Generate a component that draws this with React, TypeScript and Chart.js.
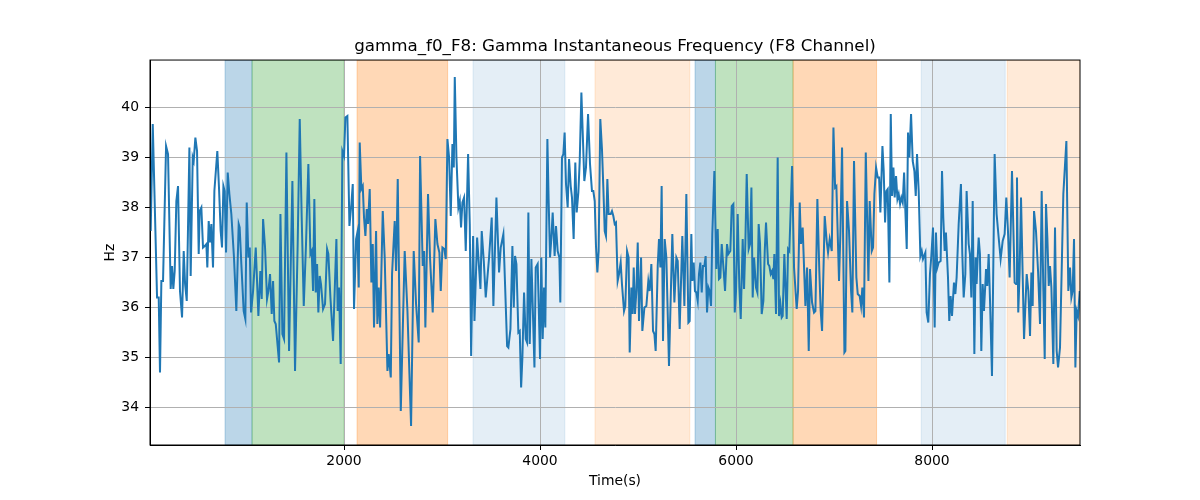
import { useEffect, useRef } from 'react';
import { Chart, ChartConfiguration, registerables } from 'chart.js';

Chart.register(...registerables);

// Time (s) and instantaneous frequency (Hz)
const times = [
  27, 48, 92, 109, 122, 136, 153, 184, 204, 231, 245, 258, 272, 289, 306, 326, 347, 364, 378, 395,
  422, 435, 456, 466, 483, 500, 517, 527, 544, 561, 578, 595, 605, 619, 633, 646, 663, 677, 707, 724,
  741, 755, 769, 782, 796, 813, 830, 850, 877, 901, 925, 935, 952, 976, 993, 1007,
  1024, 1038, 1051, 1072, 1099, 1126, 1146, 1160, 1174, 1194, 1214, 1228, 1245, 1262, 1276, 1289, 1303, 1337, 1351, 1371,
  1388, 1412, 1439, 1473, 1500, 1527, 1548, 1568, 1589, 1612, 1636, 1657, 1670, 1684, 1697, 1711, 1725, 1738, 1752, 1765,
  1786, 1806, 1827, 1840, 1861, 1888, 1922, 1935, 1949, 1966, 1983, 2000,
  2014, 2034, 2055, 2075, 2089, 2102, 2123, 2136, 2150, 2160, 2177, 2191, 2204, 2218, 2232, 2245, 2262, 2279, 2293, 2306,
  2327, 2340, 2354, 2368, 2395, 2415, 2443, 2456, 2477, 2490, 2517, 2531, 2548, 2579, 2619, 2647, 2684, 2711, 2735, 2762,
  2776, 2803, 2817, 2830, 2857, 2878, 2905, 2932, 2953, 2973, 2987,
  3004, 3024, 3038, 3055, 3072, 3089, 3106, 3120, 3130, 3147, 3167, 3181, 3194, 3208, 3225, 3242, 3266, 3283, 3297, 3317,
  3331, 3358, 3371, 3392, 3405, 3426, 3446, 3480, 3507, 3524, 3555, 3582, 3599, 3626, 3664, 3677, 3698, 3718, 3732, 3745,
  3759, 3779, 3793, 3807, 3820, 3837, 3854, 3868, 3881, 3895, 3912, 3943, 3956,
  3976, 4000, 4013, 4027, 4041, 4054, 4075, 4088, 4102, 4115, 4129, 4149, 4163, 4180, 4197, 4207, 4224, 4238, 4251, 4265,
  4282, 4296, 4313, 4326, 4343, 4360, 4374, 4391, 4405, 4422, 4435, 4452, 4469, 4490, 4510, 4530, 4544, 4558, 4571, 4585,
  4598, 4615, 4632, 4646, 4660, 4673, 4687, 4700, 4721, 4734, 4748, 4762, 4775, 4792, 4806, 4823, 4836, 4857, 4870, 4888,
  4904, 4915, 4932, 4945,
  4956, 4969, 4983, 4997, 5010, 5031, 5044, 5065, 5085, 5105, 5119, 5136, 5153, 5167, 5180, 5201, 5214, 5228, 5241, 5255,
  5272, 5289, 5316, 5350, 5371, 5391, 5405, 5425, 5452, 5473, 5493, 5514, 5527, 5544, 5554, 5568, 5581, 5595, 5609, 5622,
  5636, 5650, 5663, 5677, 5690, 5704, 5718, 5731, 5745, 5758, 5779, 5799, 5813, 5826, 5840, 5854, 5874, 5888, 5908, 5922,
  5942,
  5956, 5973, 5987, 6000, 6017, 6034, 6048, 6068, 6082, 6095, 6109, 6129, 6143, 6157, 6170, 6184, 6204, 6218, 6231, 6245,
  6262, 6279, 6293, 6306, 6327, 6340, 6354, 6368, 6381, 6391, 6408, 6425, 6439, 6453, 6466, 6476, 6493, 6517, 6531, 6544,
  6572, 6592, 6619, 6633, 6650, 6663, 6680, 6708, 6725, 6742, 6755, 6776, 6796, 6810, 6830, 6850, 6864, 6878, 6905, 6925,
  6939,
  6956, 6977, 6994, 7011, 7024, 7051, 7065, 7082, 7106, 7116, 7133, 7153, 7174, 7187, 7204, 7228, 7242, 7262, 7276, 7289,
  7306, 7324, 7351, 7364, 7385, 7398, 7412, 7429, 7446, 7460, 7473, 7494, 7507, 7521, 7534, 7548, 7565, 7579, 7592, 7606,
  7619, 7633, 7647, 7660, 7674, 7687, 7701, 7715, 7728, 7742, 7755, 7769, 7786, 7803, 7820, 7834, 7847, 7864, 7881, 7895,
  7908,
  7932, 7945, 7962, 7979, 7993, 8010, 8027, 8040, 8054, 8068, 8088, 8102, 8115, 8129, 8142, 8163, 8176, 8190, 8204, 8224,
  8238, 8251, 8272, 8295, 8309, 8323, 8340, 8353, 8374, 8387, 8401, 8415, 8432, 8445, 8455, 8466, 8476, 8489, 8503, 8517,
  8530, 8544, 8551, 8564, 8578, 8591, 8612, 8639, 8659, 8680, 8700, 8721, 8741, 8758, 8775, 8792, 8816, 8843, 8857, 8867,
  8880, 8894, 8908,
  8939, 8966, 8983, 9000, 9014, 9027, 9041, 9061, 9082, 9102, 9119, 9136, 9150, 9163, 9177, 9191, 9204, 9218, 9238, 9255,
  9272, 9286, 9306, 9340, 9371, 9391, 9408, 9422, 9435, 9449, 9463, 9476, 9490, 9507,
];

const hz = [
  37.53, 39.67, 36.2, 36.2, 34.7, 36.53, 36.53, 39.23, 39.07, 36.37, 36.83, 36.37, 36.73, 38.13, 38.43, 36.33, 35.8, 37.13, 36.47, 36.13,
  39.2, 36.63, 39.0, 38.93, 39.4, 39.13, 37.07, 37.93, 38.0, 37.2, 37.23, 37.27, 36.8, 37.73, 37.3, 37.67, 36.8, 38.33, 39.13, 38.4,
  37.53, 37.2, 38.43, 38.33, 37.1, 38.7, 38.27, 37.87, 37.0, 35.93, 37.67, 37.6, 36.87, 35.93, 35.77, 38.1,
  37.0, 37.2, 35.9, 36.33, 37.2, 35.83, 36.73, 36.17, 37.77, 37.2, 36.17, 36.33, 36.67, 35.87, 36.53, 35.73, 35.67, 34.9, 37.87, 35.47,
  35.37, 39.1, 35.13, 38.53, 34.73, 37.27, 39.77, 37.8, 36.03, 37.27, 38.87, 37.07, 37.13, 36.33, 38.17, 36.3, 36.87, 35.9, 36.63, 36.47,
  35.97, 36.07, 37.17, 37.07, 36.2, 35.33, 37.37, 35.93, 36.4, 34.87, 39.13, 39.03,
  39.8, 39.83, 37.63, 38.07, 38.47, 35.97, 37.37, 37.5, 36.4, 39.3, 38.37, 38.43, 37.8, 37.43, 37.97, 37.67, 38.37, 36.5, 37.27, 35.6,
  37.53, 35.67, 36.4, 35.6, 37.93, 37.0, 34.73, 35.07, 34.6, 36.67, 37.73, 36.73, 38.57, 33.93, 37.13, 35.93, 33.63, 37.13, 36.07, 35.3,
  39.03, 36.83, 37.13, 35.6, 38.27, 36.97, 35.9, 37.77, 37.27, 37.1, 36.33,
  37.2, 37.17, 36.97, 39.37, 39.0, 37.83, 39.27, 38.8, 40.61, 39.0, 38.0, 38.13, 37.6, 38.1, 38.2, 37.13, 39.07, 37.67, 35.03, 37.43,
  35.73, 37.4, 37.0, 36.37, 37.53, 36.93, 36.2, 37.0, 37.8, 36.03, 38.2, 36.7, 37.2, 37.47, 35.23, 35.2, 35.57, 37.23, 36.0, 37.03,
  36.87, 35.5, 35.53, 34.4, 35.0, 36.3, 35.37, 35.3, 37.9, 35.27, 36.97, 34.8, 36.8,
  36.87, 34.97, 37.0, 35.37, 36.4, 35.6, 39.37, 38.13, 37.0, 37.37, 37.9, 37.03, 37.63, 37.13, 37.0, 36.1, 39.0, 39.07, 39.5, 38.47,
  38.0, 38.97, 38.43, 38.2, 37.37, 38.9, 37.9, 38.3, 38.93, 40.3, 39.53, 38.53, 38.8, 39.87, 38.87, 38.33, 38.33, 38.13, 37.23, 36.7,
  37.13, 39.77, 39.17, 38.4, 37.53, 37.43, 38.57, 37.87, 37.87, 37.93, 37.83, 37.67, 37.7, 36.53, 36.67, 36.9, 36.47, 35.93, 36.03, 37.13,
  37.0, 35.1, 36.4, 35.87,
  36.8, 35.87, 36.33, 37.3, 35.73, 37.0, 35.53, 36.0, 36.03, 36.53, 36.33, 36.87, 35.53, 35.47, 35.13, 36.83, 37.37, 36.8, 38.43, 35.33,
  37.37, 37.0, 34.83, 37.47, 36.1, 37.0, 36.93, 35.57, 37.43, 36.03, 38.27, 35.7, 35.73, 37.47, 36.53, 36.9, 36.33, 36.3, 36.13, 36.67,
  36.9, 36.3, 36.83, 36.83, 37.03, 35.9, 36.4, 36.33, 36.03, 37.47, 38.73, 36.77, 37.57, 36.57, 36.6, 37.27, 36.73, 36.33, 37.27, 37.07,
  37.13,
  38.03, 38.07, 35.9, 36.33, 37.87, 36.4, 35.77, 37.37, 36.37, 37.27, 38.67, 37.17, 37.27, 38.4, 36.2, 37.0, 36.4, 36.3, 37.67, 37.27,
  35.87, 36.13, 37.13, 37.7, 36.87, 36.83, 36.67, 36.73, 36.57, 37.07, 35.87, 39.0, 35.83, 36.07, 35.8, 35.83, 37.07, 35.77, 37.17, 37.13,
  38.83, 36.8, 35.97, 36.33, 38.1, 37.27, 37.6, 36.03, 36.8, 35.13, 36.77, 36.1, 35.9, 35.93, 38.17, 36.73, 35.93, 35.53, 37.83, 37.33,
  37.1,
  37.37, 37.13, 39.6, 38.4, 38.43, 36.53, 37.5, 39.2, 35.1, 35.13, 38.13, 37.53, 36.33, 35.9, 38.93, 36.6, 36.27, 36.23, 36.03, 36.4,
  35.8, 39.1, 36.53, 38.13, 37.13, 37.2, 38.27, 38.8, 38.6, 38.6, 37.9, 39.23, 38.73, 37.7, 38.33, 38.37, 36.5, 39.87, 38.23, 38.8,
  38.2, 38.63, 38.17, 38.27, 38.07, 38.2, 38.1, 38.7, 37.93, 37.17, 39.5, 39.0, 39.87, 38.93, 38.73, 38.23, 39.07, 38.33, 37.03, 37.13,
  36.97,
  37.1, 35.9, 35.7, 36.67, 37.03, 37.6, 35.6, 37.5, 36.8, 36.9, 36.93, 38.73, 37.8, 37.13, 37.5, 36.6, 35.73, 36.23, 35.83, 36.5,
  36.27, 36.6, 37.67, 38.47, 37.07, 36.2, 36.67, 38.33, 37.27, 37.07, 36.2, 38.13, 35.07, 37.0, 36.47, 37.0, 37.4, 37.07, 35.13, 36.47,
  35.93, 36.47, 36.77, 36.43, 37.07, 36.2, 34.63, 39.07, 37.87, 37.4, 36.97, 37.33, 37.47, 38.2, 37.53, 36.6, 38.73, 36.5, 36.47, 38.6,
  35.9, 36.7, 38.2,
  35.37, 36.67, 36.33, 35.43, 36.7, 36.03, 37.93, 37.53, 36.73, 35.67, 38.33, 36.33, 34.97, 38.07, 37.4, 36.43, 36.83, 36.4, 34.87, 37.6,
  35.13, 34.8, 35.2, 38.27, 39.33, 36.33, 36.8, 36.2, 36.33, 37.37, 34.8, 35.93, 35.83, 36.33,
];

// Shaded segments (axvspan)
const spanStarts = [786, 1061, 2133, 3316, 4561, 5582, 5790, 6582, 7890, 8767];
const spanEnds = [1061, 2000, 3057, 4253, 5528, 5790, 6582, 7434, 8747, 9510];
const spanColors = [
  'rgba(31, 119, 180, 0.3)',
  'rgba(44, 160, 44, 0.3)',
  'rgba(255, 127, 14, 0.3)',
  'rgba(31, 119, 180, 0.12)',
  'rgba(255, 127, 14, 0.16)',
  'rgba(31, 119, 180, 0.3)',
  'rgba(44, 160, 44, 0.3)',
  'rgba(255, 127, 14, 0.3)',
  'rgba(31, 119, 180, 0.12)',
  'rgba(255, 127, 14, 0.16)',
];

const xTicks = [2000, 4000, 6000, 8000];
const yTicks = [34, 35, 36, 37, 38, 39, 40];

const FONT = 'DejaVu Sans';

const spansPlugin = {
  id: 'spans',
  beforeDraw(chart: Chart) {
    const { ctx, chartArea } = chart;
    const x = chart.scales.x;
    ctx.save();
    ctx.beginPath();
    ctx.rect(chartArea.left, chartArea.top, chartArea.right - chartArea.left, chartArea.bottom - chartArea.top);
    ctx.clip();
    spanStarts.forEach((s, i) => {
      const x0 = x.getPixelForValue(s);
      const x1 = x.getPixelForValue(spanEnds[i]);
      ctx.fillStyle = spanColors[i];
      ctx.fillRect(x0, chartArea.top, x1 - x0, chartArea.bottom - chartArea.top);
      ctx.strokeStyle = spanColors[i];
      ctx.lineWidth = 1;
      ctx.strokeRect(x0, chartArea.top, x1 - x0, chartArea.bottom - chartArea.top);
    });
    ctx.restore();
  },
  afterDraw(chart: Chart) {
    const { ctx, chartArea } = chart;
    ctx.save();
    ctx.strokeStyle = '#000';
    ctx.lineWidth = 1;
    ctx.strokeRect(chartArea.left, chartArea.top, chartArea.right - chartArea.left, chartArea.bottom - chartArea.top);
    ctx.restore();
  },
};

export default function App() {
  const canvasRef = useRef<HTMLCanvasElement>(null);
  const chartRef = useRef<Chart | null>(null);

  useEffect(() => {
    if (!canvasRef.current) return;
    if (chartRef.current) chartRef.current.destroy();

    const points = times.map((t, i) => ({ x: t, y: hz[i] }));

    const config: ChartConfiguration<'line'> = {
      type: 'line',
      data: {
        datasets: [
          {
            label: 'gamma_f0_F8',
            data: points,
            borderColor: '#1f77b4',
            borderWidth: 2,
            pointRadius: 0,
            tension: 0,
            fill: false,
          },
        ],
      },
      options: {
        responsive: true,
        maintainAspectRatio: false,
        animation: false,
        layout: { padding: { left: 0, right: 120, top: 0, bottom: 0 } },
        plugins: {
          legend: { display: false },
          tooltip: { enabled: false },
          title: {
            display: true,
            fullSize: false,
            text: 'gamma_f0_F8: Gamma Instantaneous Frequency (F8 Channel)',
            color: '#000',
            font: { family: FONT, size: 16.7, weight: 'normal' },
            padding: { top: 37, bottom: 3 },
          },
        },
        scales: {
          x: {
            type: 'linear',
            min: 20,
            max: 9510,
            afterBuildTicks: (scale) => {
              scale.ticks = xTicks.map((v) => ({ value: v }));
            },
            afterFit: (scale) => {
              scale.height = 55;
            },
            ticks: {
              color: '#000',
              font: { family: FONT, size: 13.9 },
              padding: 3,
              maxRotation: 0,
              callback: (v) => String(v),
            },
            grid: {
              color: '#b0b0b0',
              lineWidth: 1,
              tickColor: '#000',
              tickLength: 5,
              tickWidth: 1,
            },
            border: { display: true, color: '#000', width: 1 },
            title: {
              display: true,
              text: 'Time(s)',
              color: '#000',
              font: { family: FONT, size: 13.9 },
              padding: { top: 0, bottom: 10 },
            },
          },
          y: {
            type: 'linear',
            min: 33.25,
            max: 40.95,
            afterBuildTicks: (scale) => {
              scale.ticks = yTicks.map((v) => ({ value: v }));
            },
            afterFit: (scale) => {
              scale.width = 150;
            },
            ticks: {
              color: '#000',
              font: { family: FONT, size: 13.9 },
              padding: 6,
              callback: (v) => String(v),
            },
            grid: {
              color: '#b0b0b0',
              lineWidth: 1,
              tickColor: '#000',
              tickLength: 5,
              tickWidth: 1,
            },
            border: { display: true, color: '#000', width: 1 },
            title: {
              display: true,
              text: 'Hz',
              color: '#000',
              font: { family: FONT, size: 13.9 },
              padding: { top: 102, bottom: 0 },
            },
          },
        },
      },
      plugins: [spansPlugin],
    };

    chartRef.current = new Chart(canvasRef.current, config);

    return () => {
      if (chartRef.current) {
        chartRef.current.destroy();
        chartRef.current = null;
      }
    };
  }, []);

  return (
    <div style={{ position: 'fixed', left: 0, top: 0, width: 1200, height: 500, background: '#fff' }}>
      <canvas ref={canvasRef}></canvas>
    </div>
  );
}
